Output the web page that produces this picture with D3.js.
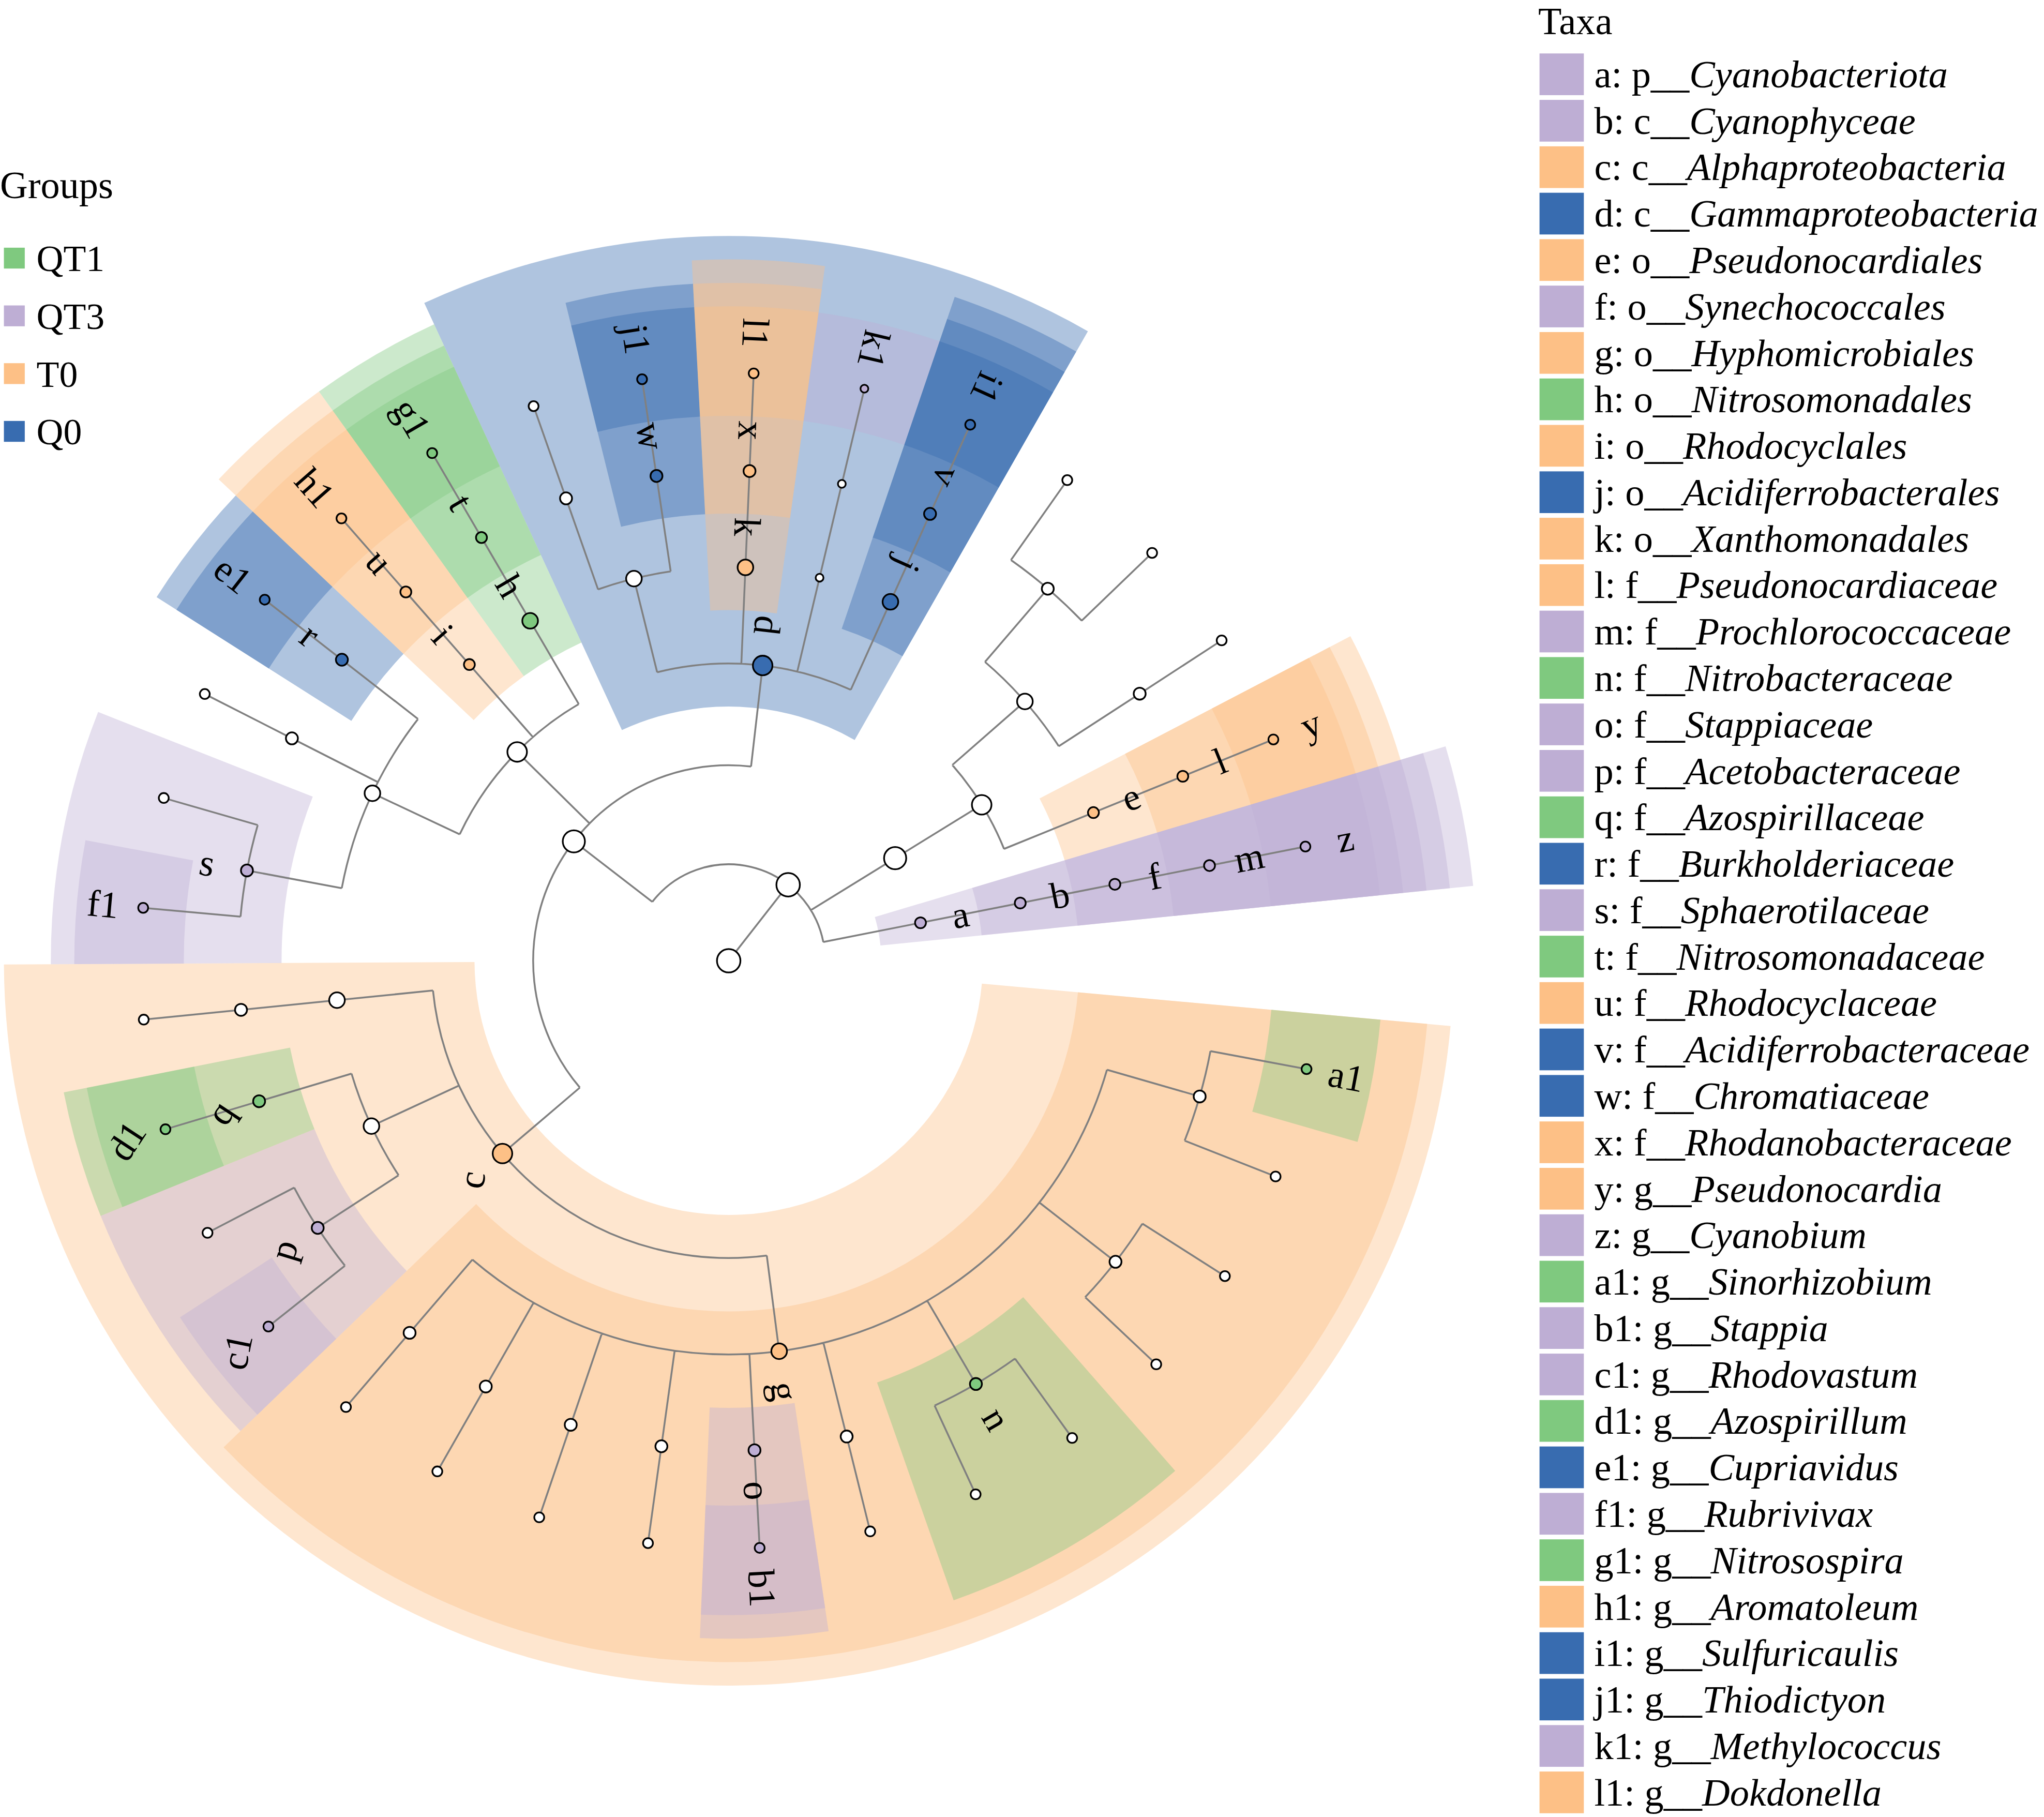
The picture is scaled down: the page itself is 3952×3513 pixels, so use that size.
<!DOCTYPE html>
<html><head><meta charset="utf-8">
<script src="https://cdn.jsdelivr.net/npm/d3@7"></script>
<style>body{margin:0;background:#fff}svg{display:block}text{font-family:"Liberation Serif","Times New Roman","DejaVu Serif",serif}</style>
</head><body>
<script>
// ---------- DATA ----------
const groupNames = ["QT1","QT3","T0","Q0"];
const groupColors = ["#7fc97f","#beaed4","#fdc086","#386cb0"];

const taxaLetters = ["a","b","c","d","e","f","g","h","i","j","k","l","m","n","o","p","q","r","s","t","u","v","w","x","y","z","a1","b1","c1","d1","e1","f1","g1","h1","i1","j1","k1","l1"];
const taxaPrefix = ["p__","c__","c__","c__","o__","o__","o__","o__","o__","o__","o__","f__","f__","f__","f__","f__","f__","f__","f__","f__","f__","f__","f__","f__","g__","g__","g__","g__","g__","g__","g__","g__","g__","g__","g__","g__","g__","g__"];
const taxaNames = ["Cyanobacteriota","Cyanophyceae","Alphaproteobacteria","Gammaproteobacteria","Pseudonocardiales","Synechococcales","Hyphomicrobiales","Nitrosomonadales","Rhodocyclales","Acidiferrobacterales","Xanthomonadales","Pseudonocardiaceae","Prochlorococcaceae","Nitrobacteraceae","Stappiaceae","Acetobacteraceae","Azospirillaceae","Burkholderiaceae","Sphaerotilaceae","Nitrosomonadaceae","Rhodocyclaceae","Acidiferrobacteraceae","Chromatiaceae","Rhodanobacteraceae","Pseudonocardia","Cyanobium","Sinorhizobium","Stappia","Rhodovastum","Azospirillum","Cupriavidus","Rubrivivax","Nitrosospira","Aromatoleum","Sulfuricaulis","Thiodictyon","Methylococcus","Dokdonella"];
const taxaGroups = ["QT3","QT3","T0","Q0","T0","QT3","T0","QT1","T0","Q0","T0","T0","QT3","QT1","QT3","QT3","QT1","Q0","QT3","QT1","T0","Q0","Q0","T0","T0","QT3","QT1","QT3","QT3","QT1","Q0","QT3","QT1","T0","Q0","Q0","QT3","T0"];

// tree edges [child, parent], children listed in clockwise order
const treeEdges = [
 ["root",null],["K","root"],
 ["a","K"],["b","a"],["f","b"],["m","f"],["z","m"],
 ["Proteo","K"],
 ["c","Proteo"],["g","c"],
 ["F9","g"],["a1","F9"],["L1","F9"],
 ["F8","g"],["L2","F8"],["L3","F8"],
 ["n","g"],["L4","n"],["L5","n"],
 ["F6","g"],["L6","F6"],
 ["o","g"],["b1","o"],
 ["F4","g"],["L7","F4"],
 ["F3","g"],["L8","F3"],
 ["F2","g"],["L9","F2"],
 ["F1","g"],["L10","F1"],
 ["Rsp","c"],["p","Rsp"],["c1","p"],["L11","p"],["q","Rsp"],["d1","q"],
 ["O175","c"],["F175","O175"],["L12","F175"],
 ["Beta","Proteo"],
 ["Burk","Beta"],["s","Burk"],["f1","s"],["L13","s"],["F152","Burk"],["L14","F152"],["r","Burk"],["e1","r"],
 ["i","Beta"],["u","i"],["h1","u"],
 ["h","Beta"],["t","h"],["g1","t"],
 ["d","Proteo"],
 ["O103","d"],["F108","O103"],["L15","F108"],["w","O103"],["j1","w"],
 ["k","d"],["x","k"],["l1","x"],
 ["O76","d"],["F76","O76"],["k1","F76"],
 ["j","d"],["v","j"],["i1","v"],
 ["Actino","K"],["AC","Actino"],["O41","AC"],["F49","O41"],["L16","F49"],["L17","F49"],["F33","O41"],["L18","F33"],
 ["e","AC"],["l","e"],["y","l"]
];
const leafSlots = 33;          // leaf positions around the circle
const firstLeafAngle = -11.2;  // degrees, angle of first leaf
const gapAfterLeaves = ["z"];  // one empty slot after these leaves
// clades drawn with small (low-abundance) node circles
const smallClades = ["a","b","f","m","z","e","l","y","i","u","h1","t","g1"];
const tinyClades = ["O76","F76","k1"];

// ---------- LAYOUT ----------
const S = 3952/1568;
const W = 3952, H = 3513;
const cx = 559, cy = 737;
const levelRadius = d3.scaleLinear().domain([0,1,2,3,4,5,6]).range([0,74,150,228,302,376,451]);
const nodeSize = [9,9,8.5,7.5,6,4.6,3.8];
const colorOf = d3.scaleOrdinal().domain(groupNames).range(groupColors);
const groupOfTaxon = new Map(taxaLetters.map((t,i)=>[t,taxaGroups[i]]));

const root = d3.stratify().id(d=>d[0]).parentId(d=>d[1])(treeEdges);
const step = 360/leafSlots;
let slot = 0;
root.eachBefore(n=>{ if(!n.children){ n.ang = firstLeafAngle + step*slot; slot += 1 + (gapAfterLeaves.includes(n.id)?1:0);} });
root.eachAfter(n=>{
  if(n.children){
    let sx=0, sy=0;
    n.children.forEach(c=>{ sx+=Math.cos(c.ang*Math.PI/180); sy+=Math.sin(c.ang*Math.PI/180); });
    let a = Math.atan2(sy,sx)*180/Math.PI;
    const ar = d3.mean(n.children, c=>c.ang);
    while(a - ar > 180) a -= 360; while(ar - a > 180) a += 360;
    n.ang = a;
    n.lo = d3.min(n.children,c=>c.lo); n.hi = d3.max(n.children,c=>c.hi);
  } else { n.lo = n.ang; n.hi = n.ang; }
  n.r = levelRadius(n.depth);
});
const rad = a=>a*Math.PI/180;
const px = (a,r)=>[r*Math.cos(rad(a)), r*Math.sin(rad(a))];
function sizeOf(n){ let s=nodeSize[n.depth]; if(smallClades.includes(n.id)) s=Math.min(s,4.2); if(tinyClades.includes(n.id)) s=3; return s; }

const svg = d3.select("body").append("svg").attr("width",W).attr("height",H);
const G = svg.append("g").attr("transform",`scale(${S})`);
const T = G.append("g").attr("transform",`translate(${cx},${cy})`);

// sectors
const arcGen = d3.arc();
const bio = root.descendants().filter(n=>groupOfTaxon.has(n.id)).sort((a,b)=>a.depth-b.depth);
T.append("g").selectAll("path").data(bio).join("path")
  .attr("d", n=>arcGen({innerRadius:n.r-33, outerRadius:610-18*n.depth,
        startAngle:rad(n.lo-step/2+90), endAngle:rad(n.hi+step/2+90)}))
  .attr("fill", n=>colorOf(groupOfTaxon.get(n.id))).attr("fill-opacity",0.4);

// links
const lp = d3.path();
root.each(n=>{
  if(!n.children) return;
  if(n.r===0){ n.children.forEach(c=>{ lp.moveTo(0,0); lp.lineTo(...px(c.ang,c.r)); }); return; }
  const ds = n.children.map(c=>((c.ang-n.ang+540)%360)-180);
  const a0 = n.ang+Math.min(0,d3.min(ds)), a1 = n.ang+Math.max(0,d3.max(ds));
  if(a1>a0){ lp.moveTo(...px(a0,n.r)); lp.arc(0,0,n.r,rad(a0),rad(a1)); }
  n.children.forEach((c,i)=>{ const a=n.ang+ds[i]; lp.moveTo(...px(a,n.r)); lp.lineTo(...px(c.ang,c.r)); });
});
T.append("path").attr("d",lp.toString()).attr("fill","none").attr("stroke","#808080").attr("stroke-width",1.4);

// nodes
T.append("g").selectAll("circle").data(root.descendants()).join("circle")
  .attr("cx",n=>px(n.ang,n.r)[0]).attr("cy",n=>px(n.ang,n.r)[1])
  .attr("r",sizeOf)
  .attr("fill",n=>groupOfTaxon.has(n.id)?colorOf(groupOfTaxon.get(n.id)):"#fff")
  .attr("stroke","#000").attr("stroke-width",1.3);

// labels
function rot(a){ a=((a+540)%360)-180; if(a<-40) return a+180; if(a<=110) return a; return a-220; }
T.append("g").selectAll("text").data(bio).join("text")
  .attr("transform",n=>{const p=px(n.ang,n.r+31); return `translate(${p[0]},${p[1]}) rotate(${rot(n.ang)})`;})
  .attr("text-anchor","middle").attr("dominant-baseline","central")
  .attr("font-size",29).text(n=>n.id);

// groups legend
G.append("text").attr("x",0).attr("y",152).attr("font-size",29.5).text("Groups");
const gl = G.append("g").selectAll("g").data(groupNames).join("g").attr("transform",(d,i)=>`translate(0,${198+i*44.3})`);
gl.append("rect").attr("x",3).attr("y",-8).attr("width",16).attr("height",16).attr("fill",d=>colorOf(d));
gl.append("text").attr("x",28).attr("y",10).attr("font-size",28.5).text(d=>d);

// taxa legend
G.append("text").attr("x",1180).attr("y",26).attr("font-size",29.5).text("Taxa");
const tl = G.append("g").selectAll("g").data(taxaLetters).join("g").attr("transform",(d,i)=>`translate(1180,${57+i*35.62})`);
tl.append("rect").attr("x",1).attr("y",-16).attr("width",34).attr("height",32).attr("fill",(d,i)=>colorOf(taxaGroups[i]));
const tt = tl.append("text").attr("x",43).attr("y",10).attr("font-size",29.5);
tt.append("tspan").text((d,i)=>`${d}: ${taxaPrefix[i]}`);
tt.append("tspan").attr("font-style","italic").text((d,i)=>taxaNames[i]);
</script>
</body></html>
